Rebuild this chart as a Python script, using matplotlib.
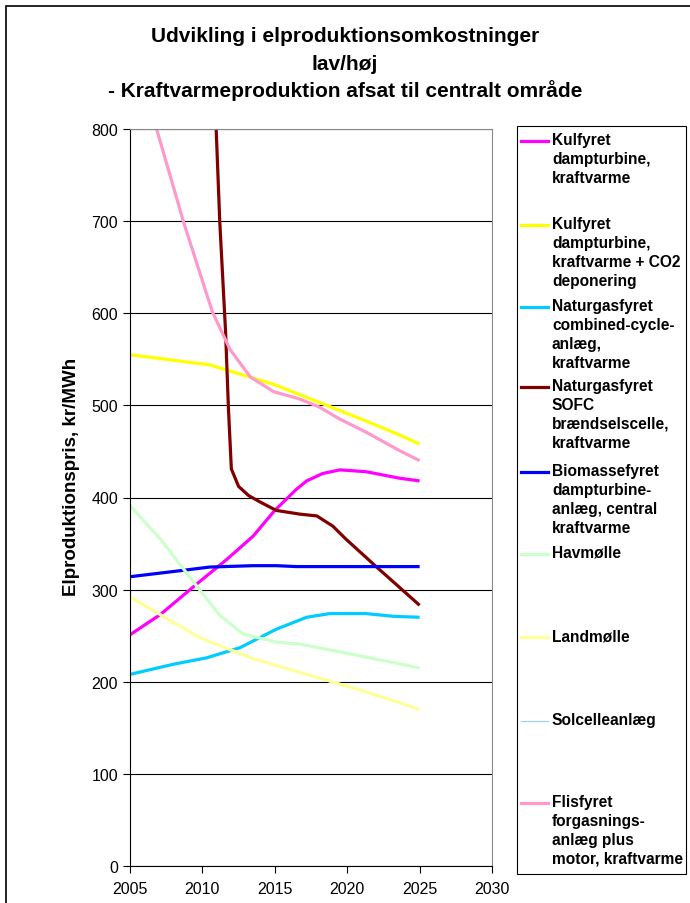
import numpy as np
import matplotlib.pyplot as plt
from matplotlib.lines import Line2D
from matplotlib.patches import Rectangle

plt.rcParams['font.family'] = ['Liberation Sans', 'DejaVu Sans']

# Kulfyret dampturbine, kraftvarme
kul_x = [2005, 2007.1, 2009.6, 2011.7, 2013.5, 2015, 2016.5, 2017.2, 2018.3, 2019.5, 2021.3, 2023.6, 2025]
kul_y = [251, 273, 306, 333, 358, 386, 409, 418, 426, 430, 428, 421, 418]
# Kulfyret + CO2 deponering
kulco2_x = [2005, 2010.5, 2014.9, 2018.6, 2021.3, 2023.6, 2025]
kulco2_y = [555, 544, 523, 500, 483, 468, 458]
# Naturgasfyret combined-cycle
ngcc_x = [2005, 2008, 2010.3, 2012.6, 2015.1, 2017.2, 2018.8, 2021.3, 2023.2, 2025]
ngcc_y = [208, 219, 226, 237, 257, 270, 274, 274, 271, 270]
# Naturgasfyret SOFC
sofc_x = [2010.95, 2011.2, 2011.6, 2011.8, 2012.0, 2012.5, 2013.2, 2014, 2015.1, 2016.7, 2017.9, 2019, 2019.9, 2022, 2025]
sofc_y = [800, 699, 580, 496, 431, 412, 402, 395, 386, 382, 380, 369, 355, 325, 283]
# Biomassefyret
bio_x = [2005, 2008.7, 2010.5, 2013.5, 2015.1, 2016.5, 2020, 2025]
bio_y = [314, 321, 324.5, 326, 326, 325, 325, 325]
# Havmølle
hav_x = [2005, 2007.1, 2009.4, 2011.2, 2012.8, 2015.1, 2016.7, 2019, 2022.5, 2025]
hav_y = [391, 355, 308, 272, 252, 243, 241, 234, 223, 215]
# Landmølle
land_x = [2005, 2009.8, 2013.5, 2018.3, 2021.3, 2025]
land_y = [292, 248, 225, 203, 189, 170]
# Solcelleanlæg (above the plotted range)
sol_x = [2005, 2010, 2015, 2020, 2025]
sol_y = [4000, 3200, 2600, 2100, 1800]
# Flisfyret forgasningsanlæg
flis_x = [2006.8, 2008.7, 2009.8, 2010.7, 2011.9, 2013.3, 2014.9, 2016.7, 2018.1, 2019.5, 2021.3, 2023.6, 2025]
flis_y = [802, 699, 645, 601, 561, 531, 515, 507, 498, 485, 471, 451, 440]

labels = ["Kulfyret\ndampturbine,\nkraftvarme",
          "Kulfyret\ndampturbine,\nkraftvarme + CO2\ndeponering",
          "Naturgasfyret\ncombined-cycle-\nanlæg,\nkraftvarme",
          "Naturgasfyret\nSOFC\nbrændselscelle,\nkraftvarme",
          "Biomassefyret\ndampturbine-\nanlæg, central\nkraftvarme",
          "Havmølle",
          "Landmølle",
          "Solcelleanlæg",
          "Flisfyret\nforgasnings-\nanlæg plus\nmotor, kraftvarme"]
colors = ['#FF00FF', '#FFFF00', '#00CCFF', '#800000', '#0000FF',
          '#CCFFCC', '#FFFF99', '#99CCFF', '#FF99CC']
widths = [2.3, 2.3, 2.3, 2.3, 2.3, 2.3, 2.3, 0.8, 2.3]
series = [(kul_x, kul_y), (kulco2_x, kulco2_y), (ngcc_x, ngcc_y), (sofc_x, sofc_y),
          (bio_x, bio_y), (hav_x, hav_y), (land_x, land_y), (sol_x, sol_y), (flis_x, flis_y)]

W, H = 690, 904
fig = plt.figure(figsize=(6.9, 9.04), dpi=100)
ax = fig.add_axes([130 / W, 1 - 867 / H, 362 / W, 737 / H])

for (x, y), c, lw in zip(series, colors, widths):
    ax.plot(x, y, color=c, lw=lw, solid_capstyle='butt')

ax.set_xlim(2005, 2030)
ax.set_ylim(0, 800)
ax.set_xticks(np.arange(2005, 2031, 5))
ax.set_yticks(np.arange(0, 801, 100))
ax.yaxis.grid(True, color='black', lw=0.8)
ax.set_axisbelow(True)
for s in ['top', 'right']:
    ax.spines[s].set_color('#888888')
    ax.spines[s].set_linewidth(0.8)
for s in ['left', 'bottom']:
    ax.spines[s].set_color('black')
    ax.spines[s].set_linewidth(0.8)
ax.tick_params(direction='out', length=5, width=0.8, labelsize=11.5)
ax.tick_params(axis='x', pad=6)

fig.text(71 / W, 1 - 477 / H, 'Elproduktionspris, kr/MWh', rotation=90, ha='center', va='center',
         fontsize=13.5, fontweight='bold')

fig.text(345 / W, 1 - 36 / H, 'Udvikling i elproduktionsomkostninger', ha='center', va='center',
         fontsize=15, fontweight='bold')
fig.text(345 / W, 1 - 64 / H, 'lav/høj', ha='center', va='center', fontsize=15, fontweight='bold')
fig.text(345 / W, 1 - 91 / H, '- Kraftvarmeproduktion afsat til centralt område', ha='center',
         va='center', fontsize=15, fontweight='bold')

# legend drawn by hand, Excel style slots
fig.add_artist(Rectangle((517 / W, 1 - 875 / H), 169 / W, 748 / H, transform=fig.transFigure,
                         fill=False, ec='black', lw=0.8))
leg_y = [142, 226, 308, 388, 473, 555, 638, 722, 804]
for yy, lab, c, lw in zip(leg_y, labels, colors, widths):
    fig.add_artist(Line2D([521 / W, 548 / W], [1 - yy / H, 1 - yy / H], transform=fig.transFigure,
                          color=c, lw=lw))
    fig.text(552 / W, 1 - (yy - 9) / H, lab, ha='left', va='top', fontsize=11.2,
             fontweight='bold', linespacing=1.33)

# outer chart border
fig.add_artist(Rectangle((6 / W, -0.01), 1.0, 1 - 7 / H + 0.01, transform=fig.transFigure,
                         fill=False, ec='black', lw=1.2))

fig.savefig('out.png', dpi=100)
